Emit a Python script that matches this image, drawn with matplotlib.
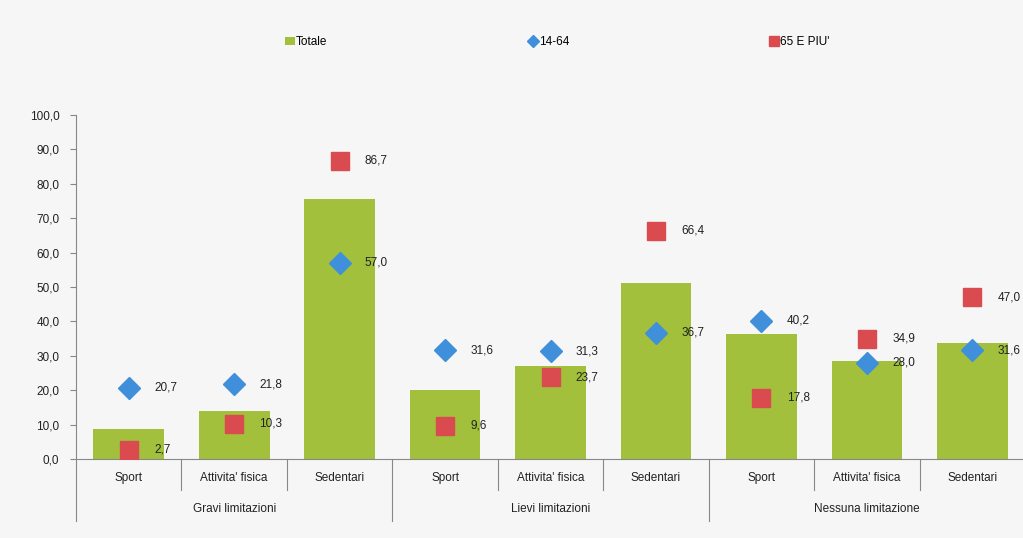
import numpy as np
import matplotlib
matplotlib.use('Agg')
import matplotlib.pyplot as plt
import matplotlib.transforms as mtransforms

plt.rcParams['font.family'] = ['Liberation Sans', 'DejaVu Sans']

categorie = ['Sport', "Attivita' fisica", 'Sedentari'] * 3
gruppi = ['Gravi limitazioni', 'Lievi limitazioni', 'Nessuna limitazione']
totale = [8.7, 13.9, 75.7, 20.2, 26.9, 51.2, 36.4, 28.6, 33.8]
eta_14_64 = [20.7, 21.8, 57.0, 31.6, 31.3, 36.7, 40.2, 28.0, 31.6]
eta_65_piu = [2.7, 10.3, 86.7, 9.6, 23.7, 66.4, 17.8, 34.9, 47.0]

verde = '#a2c03c'
blu = '#3f8fdb'
rosso = '#d94b4f'
testo = '#222222'

fig = plt.figure(figsize=(10.23, 5.38), dpi=100, facecolor='#f6f6f6')
ax = fig.add_axes([76 / 1023, (538 - 459) / 538, 947 / 1023, (459 - 115) / 538])
ax.set_facecolor('#f6f6f6')

x = np.arange(len(categorie))
b1 = ax.bar(x, totale, width=0.67, color=verde, label='Totale', zorder=2)
l1, = ax.plot(x, eta_14_64, linestyle='none', marker='D', markersize=11, color=blu,
              label='14-64', zorder=3)
l2, = ax.plot(x, eta_65_piu, linestyle='none', marker='s', markersize=13, color=rosso,
              label="65 E PIU'", zorder=3)

def fmt(v):
    return ('%.1f' % v).replace('.', ',')

for xi, v in zip(x, eta_14_64):
    ax.text(xi + 0.24, v, fmt(v), va='center', ha='left', fontsize=8.5, color=testo, zorder=4)
for xi, v in zip(x, eta_65_piu):
    ax.text(xi + 0.24, v, fmt(v), va='center', ha='left', fontsize=8.5, color=testo, zorder=4)

ax.set_xlim(-0.5, 8.48)
ax.set_ylim(0, 100)
ax.set_yticks(np.arange(0, 101, 10))
ax.set_yticklabels([fmt(v) for v in np.arange(0, 101, 10)], fontsize=8.5, color=testo)
ax.tick_params(axis='y', length=4, color='#888888', pad=8)
ax.set_xticks([])
for s in ['top', 'right']:
    ax.spines[s].set_visible(False)
ax.spines['left'].set_color('#888888')
ax.spines['bottom'].set_color('#888888')

# etichette categorie e gruppi sotto l'asse
trans = mtransforms.blended_transform_factory(ax.transData, ax.transAxes)
for xi, c in zip(x, categorie):
    ax.text(xi, -0.055, c, transform=trans, ha='center', va='center', fontsize=8.5, color=testo)
for g, nome in enumerate(gruppi):
    ax.text(3 * g + 1, -0.145, nome, transform=trans, ha='center', va='center',
            fontsize=8.5, color=testo)
for b in np.arange(0.5, 8.5, 1.0):
    bottom = -0.18 if (b + 0.5) % 3 == 0 else -0.09
    ax.plot([b, b], [0, bottom], transform=trans, color='#888888', lw=0.8, clip_on=False)
ax.plot([-0.5, -0.5], [0, -0.18], transform=trans, color='#888888', lw=0.8, clip_on=False)

fig.legend([b1, l1, l2], ['Totale', '14-64', "65 E PIU'"], loc='center',
           bbox_to_anchor=(0.545, 0.922), ncol=3, frameon=False,
           fontsize=8.5, columnspacing=17, handlelength=0.8, handletextpad=0.1,
           markerscale=0.6)

plt.savefig('out.png', dpi=100, facecolor=fig.get_facecolor())
